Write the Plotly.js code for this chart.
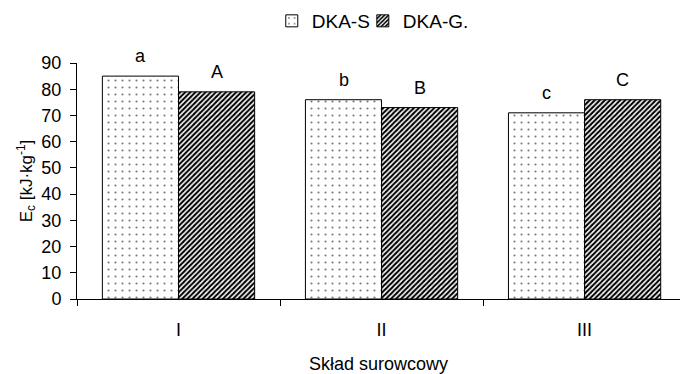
<!DOCTYPE html>
<html>
<head>
<meta charset="utf-8">
<script src="https://cdn.plot.ly/plotly-3.0.1.min.js"></script>
<style>html,body{margin:0;padding:0;background:#fff;}#chart{width:680px;height:374px;}</style>
</head>
<body>
<div id="chart"></div>
<script>
var categories = ["I", "II", "III"];
var seriesNames = ["DKA-S", "DKA-G."];
var valuesS = [85, 76, 71];
var valuesG = [79, 73, 76];
var lettersS = ["a", "b", "c"];
var lettersG = ["A", "B", "C"];
var yTicks = [0, 10, 20, 30, 40, 50, 60, 70, 80, 90];

var FONT = "Liberation Sans, Arial, sans-serif";

var traceS = {
  type: "bar", name: seriesNames[0], x: categories, y: valuesS, legend: "legend",
  marker: {
    color: "#ffffff",
    line: {color: "#000000", width: 1},
    pattern: {shape: ".", fgcolor: "#777777", bgcolor: "#ffffff", size: 7, solidity: 0.07}
  },
  hoverinfo: "none"
};
var traceG = {
  type: "bar", name: seriesNames[1], x: categories, y: valuesG, legend: "legend2",
  marker: {
    color: "#ffffff",
    line: {color: "#000000", width: 1},
    pattern: {shape: "/", fgcolor: "#000000", bgcolor: "#ffffff", size: 3.6, solidity: 0.55}
  },
  hoverinfo: "none"
};

var annotations = [];
categories.forEach(function (c, i) {
  annotations.push({x: c, y: valuesS[i], xref: "x", yref: "y", text: lettersS[i], showarrow: false,
    xshift: -38, yshift: 8, yanchor: "bottom", font: {family: FONT, size: 18, color: "#000"}});
  annotations.push({x: c, y: valuesG[i], xref: "x", yref: "y", text: lettersG[i], showarrow: false,
    xshift: 38, yshift: 8, yanchor: "bottom", font: {family: FONT, size: 18, color: "#000"}});
});

var legendBase = {orientation: "h", xanchor: "left", y: 1.178, yanchor: "middle",
  font: {family: FONT, size: 19}, itemwidth: 30, bgcolor: "rgba(0,0,0,0)"};

var layout = {
  width: 680, height: 374,
  margin: {l: 77, r: 0, t: 63, b: 75, pad: 0},
  paper_bgcolor: "#ffffff", plot_bgcolor: "#ffffff",
  font: {family: FONT, color: "#000000", size: 17},
  barmode: "group", bargap: 0.25, bargroupgap: 0,
  showlegend: true,
  legend: Object.assign({}, legendBase, {x: 0.323}),
  legend2: Object.assign({}, legendBase, {x: 0.474}),
  xaxis: {
    type: "category", range: [-0.5, 2.47],
    showline: true, linecolor: "#000", linewidth: 1,
    ticks: "outside", tickson: "boundaries", ticklen: 6, tickcolor: "#000",
    showgrid: false, zeroline: false,
    tickfont: {family: FONT, size: 18}, ticklabelstandoff: 14,
    title: {text: "Skład surowcowy", font: {family: FONT, size: 18}, standoff: 24}
  },
  yaxis: {
    range: [0, 90], tickvals: yTicks, ticktext: yTicks.map(String),
    showline: true, linecolor: "#000", linewidth: 1,
    ticks: "outside", ticklen: 6, tickcolor: "#000",
    showgrid: false, zeroline: false,
    tickfont: {family: FONT, size: 18}, ticklabelstandoff: 5,
    title: {text: "E<sub>c</sub> [kJ·kg<sup>-1</sup>]", font: {family: FONT, size: 17}, standoff: 4}
  },
  annotations: annotations
};

Plotly.newPlot("chart", [traceS, traceG], layout, {staticPlot: true, displayModeBar: false});
</script>
</body>
</html>
